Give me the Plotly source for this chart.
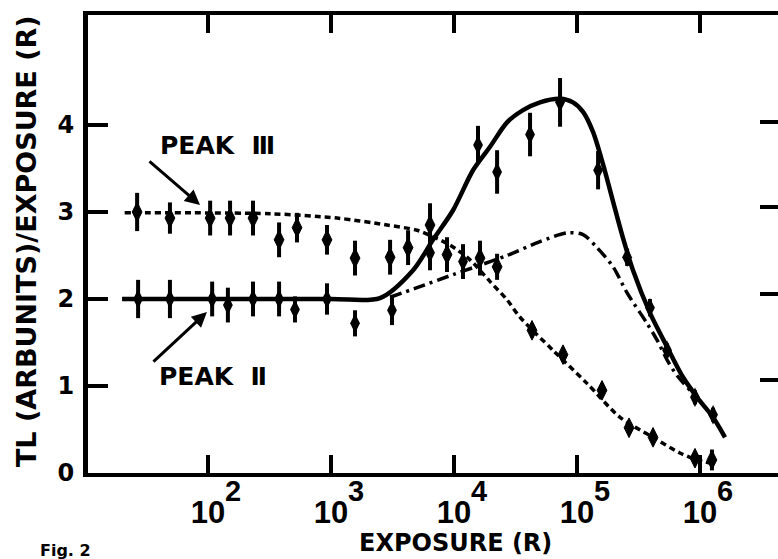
import math
import plotly.graph_objects as go

# ---------------- data ----------------
# Peak II fitted curve (solid)
p2_curve_x = [20, 982, 2500, 4645, 6745, 9817, 14260, 19630, 26980, 36390, 50000, 72780,
              92680, 111940, 134900, 162600, 196300, 236600, 285100, 391700, 539500,
              727800, 946200, 1276000, 1596000]
p2_curve_y = [2.0, 2.0, 2.01, 2.33, 2.68, 3.02, 3.48, 3.75, 4.03, 4.17, 4.26, 4.30,
              4.26, 4.15, 3.92, 3.55, 3.12, 2.70, 2.33, 1.84, 1.45,
              1.10, 0.87, 0.64, 0.41]

# Peak III fitted curve (dashed)
p3_curve_x = [21, 319, 1120, 2850, 5000, 6380, 9270, 13490, 19630, 26980, 34430,
              63830, 120500, 223900, 415000, 687000, 946000, 1253000]
p3_curve_y = [2.99, 2.98, 2.93, 2.85, 2.79, 2.73, 2.62, 2.45, 2.2, 1.99, 1.79,
              1.41, 1.03, 0.64, 0.41, 0.23, 0.15, 0.11]

# Second peak II curve (dash-dot)
dd_curve_x = [3020, 5000, 9820, 14260, 26980, 50000, 83000, 112000, 145600, 196300,
              255400, 370700, 446700, 539500, 650000, 830000]
dd_curve_y = [2.02, 2.13, 2.28, 2.36, 2.5, 2.66, 2.76, 2.74, 2.59, 2.37,
              2.07, 1.72, 1.53, 1.30, 1.12, 0.95]

# Peak III measured points
p3_x = [26.5, 49, 104, 151, 232, 378, 529, 927, 1567, 3020, 4230, 6380, 8770,
        16260, 22390, 43050, 76900, 159600, 264800, 415000, 910000, 1250000]
p3_y = [3.0, 2.93, 2.93, 2.93, 2.93, 2.68, 2.82, 2.68, 2.47, 2.48, 2.59, 2.85, 2.51,
        2.47, 2.37, 1.64, 1.36, 0.95, 0.52, 0.41, 0.17, 0.15]
p3_err = [0.22, 0.18, 0.2, 0.2, 0.2, 0.2, 0.17, 0.17, 0.2, 0.2, 0.2, 0.25, 0.2,
          0.2, 0.15, 0.08, 0.08, 0.06, 0.05, 0.04, 0.04, 0.12]
p3_open = [False, False, False, False, False, False, False, False, True, True, False, True, False,
           False, False, False, False, True, False, True, False, False]

# Peak II measured points
p2_x = [27, 49, 108, 145, 232, 378, 509, 927, 1567, 3130, 6380, 11830,
        15670, 22390, 41500, 72780, 148300, 255400, 391700, 539500, 910000, 1276000]
p2_y = [2.0, 2.0, 2.0, 1.93, 2.0, 2.0, 1.88, 2.0, 1.72, 1.87, 2.53, 2.43,
        3.77, 3.46, 3.89, 4.26, 3.48, 2.48, 1.9, 1.41, 0.87, 0.67]
p2_err = [0.22, 0.22, 0.2, 0.2, 0.2, 0.2, 0.15, 0.18, 0.15, 0.17, 0.2, 0.2,
          0.22, 0.25, 0.25, 0.28, 0.22, 0.1, 0.1, 0.08, 0.08, 0.08]

x_tick_vals = [1e2, 1e3, 1e4, 1e5, 1e6]
x_tick_base = ["10", "10", "10", "10", "10"]
x_tick_exp = ["2", "3", "4", "5", "6"]
y_tick_vals = [0, 1, 2, 3, 4]
y_tick_text = ["0", "1", "2", "3", "4"]
right_tick_vals = [1.07, 2.06, 3.06, 4.03]

# arrow targets (exposure, value)
peak3_arrow = (86, 3.08)
peak2_arrow = (98, 1.85)

INK = "black"
FONT = "DejaVu Sans"
TICKFONT = "Liberation Sans"

fig = go.Figure()

fig.add_trace(go.Scatter(x=p3_curve_x, y=p3_curve_y, mode="lines",
                         line=dict(color=INK, width=3.5, dash="6px,4px", shape="spline", smoothing=0.8),
                         hoverinfo="skip"))
fig.add_trace(go.Scatter(x=dd_curve_x, y=dd_curve_y, mode="lines",
                         line=dict(color=INK, width=3.5, dash="12px,5px,3px,5px", shape="spline", smoothing=0.8),
                         hoverinfo="skip"))
fig.add_trace(go.Scatter(x=p2_curve_x, y=p2_curve_y, mode="lines",
                         line=dict(color=INK, width=4.5, shape="spline", smoothing=0.8),
                         hoverinfo="skip"))

fig.add_trace(go.Scatter(x=p3_x, y=p3_y, mode="markers",
                         marker=dict(symbol=["diamond-tall-dot" if o else "diamond-tall" for o in p3_open],
                                     size=14, color=INK, line=dict(color=INK, width=1)),
                         error_y=dict(type="data", array=p3_err, color=INK, thickness=4, width=0)))
fig.add_trace(go.Scatter(x=p2_x, y=p2_y, mode="markers",
                         marker=dict(symbol="diamond-tall", size=14, color=INK),
                         error_y=dict(type="data", array=p2_err, color=INK, thickness=4, width=0)))

# invisible trace so the right-hand tick axis is drawn
fig.add_trace(go.Scatter(x=[1e3], y=[1], yaxis="y2", mode="markers",
                         marker=dict(opacity=0), hoverinfo="skip"))

fig.update_layout(
    width=778, height=559,
    margin=dict(l=88, r=0, t=15, b=86),
    paper_bgcolor="white", plot_bgcolor="white",
    showlegend=False,
    font=dict(family=FONT, color=INK, size=20, weight="bold"),
    xaxis=dict(type="log", range=[1.024, 6.634], tickvals=x_tick_vals, ticktext=x_tick_base,
               ticks="inside", ticklen=18, tickwidth=4, tickcolor=INK,
               showline=True, linewidth=4, linecolor=INK, mirror="ticks",
               showgrid=False, zeroline=False, ticklabelstandoff=9,
               tickfont=dict(family=TICKFONT, size=31, weight="bold")),
    yaxis=dict(range=[0, 5.264], tickvals=y_tick_vals, ticktext=y_tick_text,
               ticks="inside", ticklen=20, tickwidth=4, tickcolor=INK,
               showline=True, linewidth=5, linecolor=INK,
               showgrid=False, zeroline=False, ticklabelstandoff=4,
               tickfont=dict(family=FONT, size=24, weight="bold")),
    yaxis2=dict(range=[0, 5.264], overlaying="y", side="right", anchor="x",
                tickvals=right_tick_vals, showticklabels=False,
                ticks="inside", ticklen=18, tickwidth=4, tickcolor=INK,
                showline=False, showgrid=False, zeroline=False),
)

# exponents of the x tick labels, placed at the tick positions (log axis -> log10 coords)
for xv, e in zip(x_tick_vals, x_tick_exp):
    fig.add_annotation(text=e, x=math.log10(xv), xref="x", y=-0.039, yref="paper",
                       xanchor="center", yanchor="middle", xshift=25, showarrow=False,
                       font=dict(family=TICKFONT, size=29, color=INK, weight="bold"))

ann_font = dict(family=FONT, size=25, color=INK, weight="bold")
fig.add_annotation(text="TL (ARBUNITS)/EXPOSURE (R)", xref="paper", yref="paper",
                   x=-0.088, y=0.507, xanchor="center", yanchor="middle",
                   textangle=-90, showarrow=False,
                   font=dict(family=FONT, size=27, color=INK, weight="bold"))
fig.add_annotation(text="EXPOSURE (R)", xref="paper", yref="paper",
                   x=0.532, y=-0.152, xanchor="center", yanchor="middle", showarrow=False,
                   font=dict(family=FONT, size=24, color=INK, weight="bold"))
fig.add_annotation(text="Fig. 2", xref="paper", yref="paper", x=-0.033, y=-0.17,
                   xanchor="center", yanchor="middle",
                   showarrow=False, font=dict(family=FONT, size=16, color=INK, weight="bold"))
fig.add_annotation(text="PEAK  Ⅲ", xref="paper", yref="paper", x=0.187, y=0.714,
                   xanchor="center", yanchor="middle", showarrow=False, font=ann_font)
fig.add_annotation(text="PEAK  Ⅱ", xref="paper", yref="paper", x=0.181, y=0.210,
                   xanchor="center", yanchor="middle", showarrow=False, font=ann_font)
fig.add_annotation(text="", x=math.log10(peak3_arrow[0]), y=peak3_arrow[1], xref="x", yref="y",
                   showarrow=True, ax=-52, ay=-45, arrowhead=2, arrowsize=1, arrowwidth=3,
                   arrowcolor=INK)
fig.add_annotation(text="", x=math.log10(peak2_arrow[0]), y=peak2_arrow[1], xref="x", yref="y",
                   showarrow=True, ax=-55, ay=51, arrowhead=2, arrowsize=1, arrowwidth=3,
                   arrowcolor=INK)

fig.write_html("out.html")
